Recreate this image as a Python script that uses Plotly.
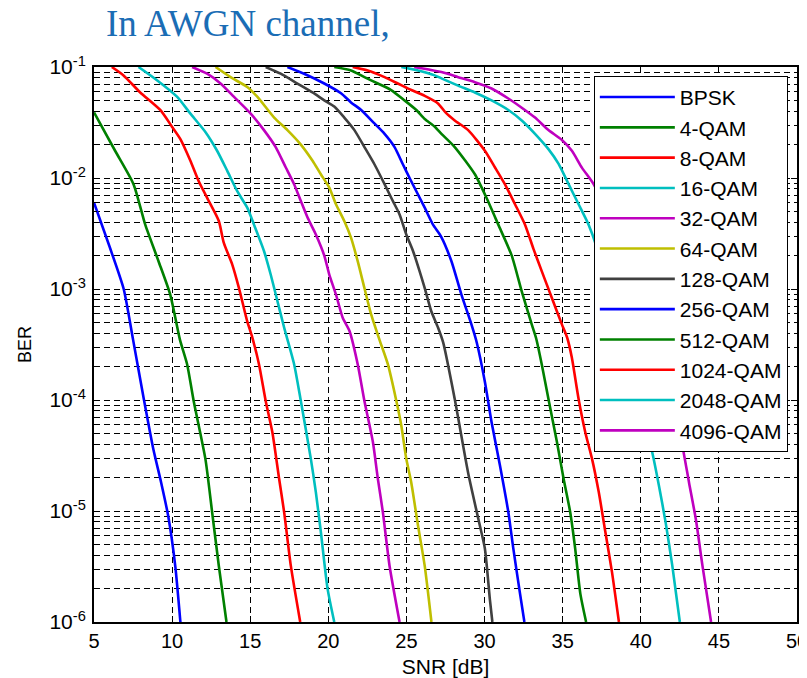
import plotly.graph_objects as go

# ---------------- data ----------------
series_names = ["BPSK", "4-QAM", "8-QAM", "16-QAM", "32-QAM", "64-QAM", "128-QAM",
                "256-QAM", "512-QAM", "1024-QAM", "2048-QAM", "4096-QAM"]
series_colors = ["#0000FF", "#008000", "#FF0000", "#00BFBF", "#BF00BF", "#BFBF00", "#404040",
                 "#0000FF", "#008000", "#FF0000", "#00BFBF", "#BF00BF"]

snr_bpsk = [5.0, 6.0, 6.9, 7.5, 8.2, 8.8, 9.3, 9.75, 10.2, 10.53]
ber_bpsk = [6.0e-3, 2.4e-3, 1.0e-3, 3.5e-4, 1.0e-4, 3.6e-5, 1.8e-5, 9.0e-6, 3.2e-6, 1.0e-6]

snr_4qam = [5.0, 6.35, 7.53, 8.28, 9.13, 9.88, 10.5, 10.96, 11.38, 12.13, 12.56, 12.99, 13.48]
ber_4qam = [3.9e-2, 1.76e-2, 8.8e-3, 3.8e-3, 1.78e-3, 8.9e-4, 3.5e-4, 2.1e-4, 9.8e-5,
            2.95e-5, 9.8e-6, 3.2e-6, 1.0e-6]

snr_8qam = [6.14, 6.89, 7.96, 9.24, 9.99, 10.53, 11.17, 11.71, 12.35, 12.99, 13.31, 13.85,
            14.28, 14.81, 15.1, 15.56, 15.99, 16.42, 16.85, 17.17, 17.6, 18.2]
ber_8qam = [1.0e-1, 8.4e-2, 5.9e-2, 4.1e-2, 2.9e-2, 2.24e-2, 1.43e-2, 9.3e-3, 6.2e-3, 4.1e-3,
            2.6e-3, 1.66e-3, 1.02e-3, 5.1e-4, 3.8e-4, 2.1e-4, 9.8e-5, 5.1e-5, 1.95e-5, 9.8e-6,
            3.2e-6, 1.0e-6]

snr_16qam = [7.85, 9.03, 10.31, 11.17, 12.13, 12.88, 13.53, 14.17, 14.81, 15.24, 15.88, 16.31,
             16.74, 17.17, 17.81, 18.24, 18.88, 19.2, 19.52, 19.95, 20.38]
ber_16qam = [1.0e-1, 7.6e-2, 5.4e-2, 3.8e-2, 2.6e-2, 1.76e-2, 1.16e-2, 7.6e-3, 5.4e-3, 3.8e-3,
             2.2e-3, 1.35e-3, 7.8e-4, 4.5e-4, 2.1e-4, 9.8e-5, 2.95e-5, 1.48e-5, 6.5e-6, 2.0e-6,
             1.0e-6]

snr_32qam = [11.28, 12.24, 13.1, 13.95, 15.03, 15.88, 16.63, 17.27, 17.81, 18.24, 18.67, 19.2,
             19.74, 20.06, 20.49, 20.92, 21.35, 21.88, 22.31, 22.85, 23.17, 23.49, 23.92, 24.56]
ber_32qam = [1.0e-1, 8.7e-2, 7.1e-2, 5.4e-2, 3.8e-2, 2.7e-2, 1.9e-2, 1.25e-2, 8.8e-3, 6.2e-3,
             4.4e-3, 3.1e-3, 2.0e-3, 1.35e-3, 8.9e-4, 5.5e-4, 4.2e-4, 2.1e-4, 9.8e-5, 4.2e-5,
             1.95e-5, 9.8e-6, 3.2e-6, 1.0e-6]

snr_64qam = [12.78, 13.74, 14.81, 15.45, 16.53, 17.38, 18.24, 18.99, 19.52, 20.06, 20.49, 21.02,
             21.45, 21.88, 22.31, 22.74, 23.27, 23.81, 24.34, 24.67, 24.99, 25.31, 25.74, 26.17,
             26.6]
ber_64qam = [1.0e-1, 8.1e-2, 6.6e-2, 5.4e-2, 3.5e-2, 2.7e-2, 2.0e-2, 1.43e-2, 1.08e-2, 8.2e-3,
             5.8e-3, 4.1e-3, 2.9e-3, 1.78e-3, 1.02e-3, 5.9e-4, 3.5e-4, 2.1e-4, 1.0e-4, 5.9e-5,
             2.95e-5, 1.8e-5, 7.4e-6, 3.2e-6, 1.0e-6]

snr_128qam = [15.99, 16.95, 18.02, 18.99, 19.74, 20.38, 21.02, 21.67, 22.31, 22.95, 23.6, 24.13,
              24.56, 24.99, 25.42, 25.84, 26.17, 26.59, 27.02, 27.35, 28.09, 28.95, 29.6, 30.02,
              30.34, 30.5]
ber_128qam = [1.0e-1, 8.7e-2, 7.1e-2, 5.9e-2, 5.0e-2, 4.4e-2, 3.5e-2, 2.7e-2, 1.9e-2, 1.33e-2,
              8.8e-3, 6.2e-3, 4.7e-3, 3.1e-3, 2.2e-3, 1.45e-3, 1.02e-3, 6.3e-4, 4.5e-4, 3.3e-4,
              1.02e-4, 2.2e-5, 8.5e-6, 4.6e-6, 1.6e-6, 1.0e-6]

snr_256qam = [17.38, 18.45, 19.74, 20.81, 21.45, 22.1, 22.95, 23.6, 24.24, 24.77, 25.2, 25.74,
              26.17, 26.7, 27.2, 27.88, 28.52, 29.16, 29.5, 30.02, 30.45, 30.98, 31.52, 31.84,
              32.27, 32.55]
ber_256qam = [1.0e-1, 8.7e-2, 7.1e-2, 5.8e-2, 4.8e-2, 4.1e-2, 3.1e-2, 2.5e-2, 1.9e-2, 1.33e-2,
              1.0e-2, 7.1e-3, 5.4e-3, 3.8e-3, 3.0e-3, 1.78e-3, 8.9e-4, 4.8e-4, 3.3e-4, 1.46e-4,
              6.3e-5, 2.6e-5, 9.8e-6, 4.6e-6, 1.8e-6, 1.0e-6]

snr_512qam = [20.38, 21.45, 22.31, 23.17, 24.02, 24.88, 25.63, 26.17, 26.81, 27.24, 28.09, 29.38,
              30.13, 30.88, 31.74, 32.38, 33.02, 33.3, 33.66, 34.09, 34.63, 35.06, 35.48, 35.8,
              36.13, 36.5]
ber_512qam = [1.0e-1, 9.3e-2, 8.1e-2, 7.1e-2, 6.2e-2, 5.0e-2, 4.1e-2, 3.4e-2, 2.9e-2, 2.5e-2,
              1.9e-2, 1.08e-2, 6.6e-3, 3.8e-3, 2.0e-3, 9.5e-4, 4.8e-4, 3.6e-4, 2.1e-4, 1.02e-4,
              4.2e-5, 1.95e-5, 9.8e-6, 4.6e-6, 1.8e-6, 1.0e-6]

snr_1024qam = [21.56, 22.52, 23.6, 24.45, 25.31, 26.17, 27.02, 27.5, 28.09, 28.95, 30.02, 30.66,
               31.3, 31.95, 32.59, 33.13, 33.66, 34.31, 34.95, 35.3, 35.59, 36.02, 36.45, 36.88,
               37.31, 37.73, 38.16, 38.6]
ber_1024qam = [1.0e-1, 9.3e-2, 8.1e-2, 7.1e-2, 6.2e-2, 5.5e-2, 4.7e-2, 3.9e-2, 3.3e-2, 2.7e-2,
               1.76e-2, 1.25e-2, 8.8e-3, 5.8e-3, 3.8e-3, 2.3e-3, 1.45e-3, 8.3e-4, 4.8e-4, 3.6e-4,
               2.4e-4, 1.02e-4, 5.1e-5, 2.95e-5, 1.48e-5, 6.5e-6, 2.8e-6, 1.0e-6]

snr_2048qam = [24.67, 25.74, 26.81, 27.24, 28.31, 29.38, 30.45, 31.52, 32.38, 33.23, 34.09, 34.74,
               35.38, 36.02, 36.66, 37.13, 38.0, 39.0, 40.0, 40.73, 41.16, 41.59, 42.02, 42.5]
ber_2048qam = [1.0e-1, 9.3e-2, 8.4e-2, 7.9e-2, 6.8e-2, 5.9e-2, 5.0e-2, 4.1e-2, 3.3e-2, 2.5e-2,
               1.82e-2, 1.34e-2, 8.8e-3, 5.8e-3, 3.8e-3, 2.5e-3, 9.0e-4, 2.8e-4, 9.0e-5, 3.4e-5,
               1.7e-5, 7.9e-6, 3.2e-6, 1.0e-6]

snr_4096qam = [25.5, 27.24, 28.31, 29.38, 30.45, 31.52, 32.38, 33.23, 34.09, 34.95, 35.59, 36.23,
               36.98, 38.5, 40.0, 41.3, 42.1, 42.66, 43.09, 43.52, 43.95, 44.5]
ber_4096qam = [1.0e-1, 9.0e-2, 8.1e-2, 7.3e-2, 6.4e-2, 5.2e-2, 4.3e-2, 3.5e-2, 2.7e-2, 2.2e-2,
               1.76e-2, 1.24e-2, 8.8e-3, 3.2e-3, 9.0e-4, 2.2e-4, 8.9e-5, 3.9e-5, 1.8e-5, 8.5e-6,
               3.2e-6, 1.0e-6]

x_tick_values = [5, 10, 15, 20, 25, 30, 35, 40, 45, 50]
y_tick_values = [1e-6, 1e-5, 1e-4, 1e-3, 1e-2, 1e-1]
y_tick_labels = ["10<sup>-6</sup>", "10<sup>-5</sup>", "10<sup>-4</sup>",
                 "10<sup>-3</sup>", "10<sup>-2</sup>", "10<sup>-1</sup>"]

title_text = "In AWGN channel,"
x_label = "SNR [dB]"
y_label = "BER"

snr_all = [snr_bpsk, snr_4qam, snr_8qam, snr_16qam, snr_32qam, snr_64qam, snr_128qam,
           snr_256qam, snr_512qam, snr_1024qam, snr_2048qam, snr_4096qam]
ber_all = [ber_bpsk, ber_4qam, ber_8qam, ber_16qam, ber_32qam, ber_64qam, ber_128qam,
           ber_256qam, ber_512qam, ber_1024qam, ber_2048qam, ber_4096qam]

# ---------------- figure ----------------
FONT = "Liberation Sans, Arial, Helvetica, sans-serif"
DASH = "6px,4px"

fig = go.Figure()
for name, color, xs, ys in zip(series_names, series_colors, snr_all, ber_all):
    fig.add_trace(go.Scatter(x=xs, y=ys, mode="lines", name=name,
                             line=dict(color=color, width=2.6, shape="spline",
                                       smoothing=0.6)))

minor_vals = [k * 10.0 ** e for e in range(-6, -1) for k in range(2, 10)]

# the page body has an 8px default margin: figure is sized to fill the rest of the window
fig.update_layout(
    width=799, height=670,
    margin=dict(l=86, r=10, t=59, b=56, autoexpand=False),
    paper_bgcolor="white", plot_bgcolor="white",
    font=dict(family=FONT, color="black", size=19),
    showlegend=True,
    legend=dict(x=0.711, y=0.984, xanchor="left", yanchor="top",
                bgcolor="white", bordercolor="black", borderwidth=1,
                font=dict(family=FONT, size=21, color="black"),
                itemwidth=75, tracegroupgap=0),
    xaxis=dict(range=[5, 50], tickmode="array", tickvals=x_tick_values,
               ticks="inside", ticklen=6, tickcolor="black", tickwidth=1,
               showline=True, linecolor="black", linewidth=2, mirror="ticks",
               showgrid=True, gridcolor="black", gridwidth=1, griddash=DASH,
               zeroline=False, tickfont=dict(size=20), automargin=False,
               ticklabeloverflow="allow",
               title=dict(text=x_label, font=dict(size=21), standoff=8)),
    yaxis=dict(type="log", range=[-6, -1], tickmode="array",
               tickvals=y_tick_values, ticktext=y_tick_labels,
               ticks="inside", ticklen=6, tickcolor="black", tickwidth=1,
               showline=True, linecolor="black", linewidth=2, mirror="ticks",
               showgrid=True, gridcolor="black", gridwidth=1, griddash=DASH,
               zeroline=False, tickfont=dict(size=21), automargin=False,
               ticklabelstandoff=2,
               minor=dict(tickmode="array", tickvals=minor_vals, ticks="inside",
                          ticklen=3, tickcolor="black", showgrid=True,
                          gridcolor="black", gridwidth=1, griddash=DASH),
               title=dict(text=y_label, font=dict(size=18), standoff=13)),
    annotations=[dict(text=title_text, xref="paper", yref="paper",
                      x=0.219, y=1.079, xanchor="center", yanchor="middle",
                      showarrow=False,
                      font=dict(family="Liberation Serif, Times New Roman, serif",
                                size=37, color="#1B6DB5"))],
)

fig.write_html("out.html")
